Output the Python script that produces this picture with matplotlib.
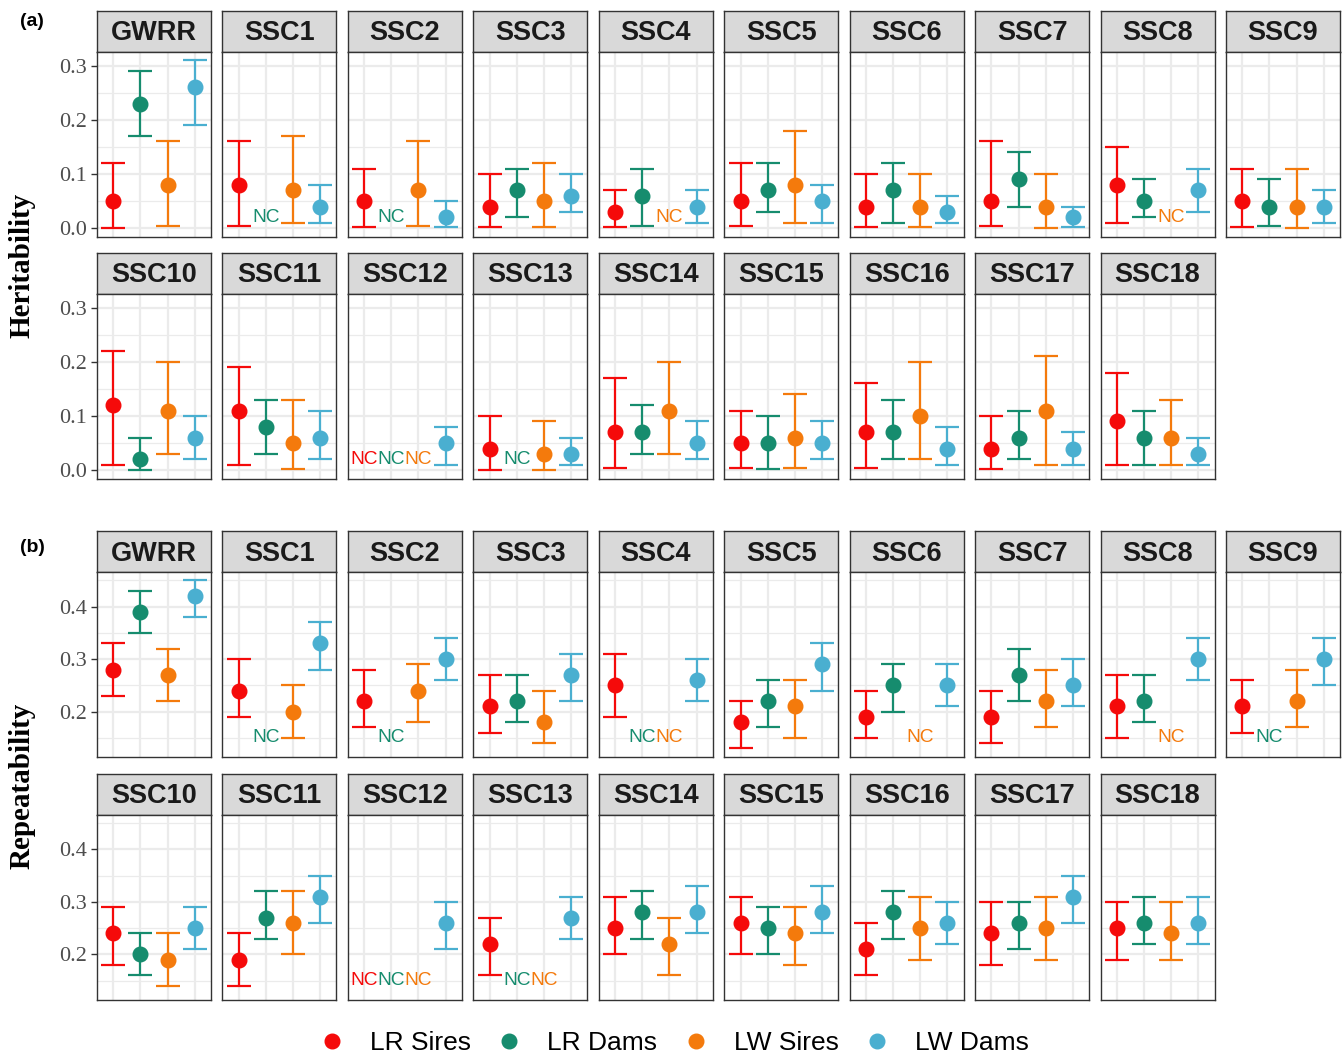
import matplotlib
matplotlib.use("Agg")
import matplotlib.pyplot as plt
from matplotlib.lines import Line2D

facets = ['GWRR'] + ['SSC%d' % i for i in range(1, 19)]
groups = ['LR Sires', 'LR Dams', 'LW Sires', 'LW Dams']
colors = ['#F50A0A', '#168C6E', '#F47A0C', '#4AAFD0']
N = None

# (a) Heritability: estimate, lower, upper per facet, order = groups
h2_est = [
    [0.05, 0.23, 0.08, 0.26], [0.08, N, 0.07, 0.04], [0.05, N, 0.07, 0.02],
    [0.04, 0.07, 0.05, 0.06], [0.03, 0.06, N, 0.04], [0.05, 0.07, 0.08, 0.05],
    [0.04, 0.07, 0.04, 0.03], [0.05, 0.09, 0.04, 0.02], [0.08, 0.05, N, 0.07],
    [0.05, 0.04, 0.04, 0.04], [0.12, 0.02, 0.11, 0.06], [0.11, 0.08, 0.05, 0.06],
    [N, N, N, 0.05], [0.04, N, 0.03, 0.03], [0.07, 0.07, 0.11, 0.05],
    [0.05, 0.05, 0.06, 0.05], [0.07, 0.07, 0.10, 0.04], [0.04, 0.06, 0.11, 0.04],
    [0.09, 0.06, 0.06, 0.03]]
h2_lo = [
    [0.00, 0.17, 0.004, 0.19], [0.004, N, 0.01, 0.01], [0.002, N, 0.004, 0.002],
    [0.002, 0.02, 0.002, 0.03], [0.002, 0.004, N, 0.01], [0.004, 0.03, 0.01, 0.01],
    [0.002, 0.01, 0.002, 0.01], [0.004, 0.04, 0.001, 0.002], [0.01, 0.02, N, 0.03],
    [0.002, 0.004, 0.001, 0.01], [0.01, 0.00, 0.03, 0.02], [0.01, 0.03, 0.003, 0.02],
    [N, N, N, 0.01], [0.001, N, 0.001, 0.01], [0.004, 0.03, 0.03, 0.02],
    [0.004, 0.002, 0.004, 0.02], [0.004, 0.02, 0.02, 0.01], [0.002, 0.02, 0.01, 0.01],
    [0.01, 0.01, 0.01, 0.01]]
h2_hi = [
    [0.12, 0.29, 0.16, 0.31], [0.16, N, 0.17, 0.08], [0.11, N, 0.16, 0.05],
    [0.10, 0.11, 0.12, 0.10], [0.07, 0.11, N, 0.07], [0.12, 0.12, 0.18, 0.08],
    [0.10, 0.12, 0.10, 0.06], [0.16, 0.14, 0.10, 0.04], [0.15, 0.09, N, 0.11],
    [0.11, 0.09, 0.11, 0.07], [0.22, 0.06, 0.20, 0.10], [0.19, 0.13, 0.13, 0.11],
    [N, N, N, 0.08], [0.10, N, 0.09, 0.06], [0.17, 0.12, 0.20, 0.09],
    [0.11, 0.10, 0.14, 0.09], [0.16, 0.13, 0.20, 0.08], [0.10, 0.11, 0.21, 0.07],
    [0.18, 0.11, 0.13, 0.06]]

# (b) Repeatability
rep_est = [
    [0.28, 0.39, 0.27, 0.42], [0.24, N, 0.20, 0.33], [0.22, N, 0.24, 0.30],
    [0.21, 0.22, 0.18, 0.27], [0.25, N, N, 0.26], [0.18, 0.22, 0.21, 0.29],
    [0.19, 0.25, N, 0.25], [0.19, 0.27, 0.22, 0.25], [0.21, 0.22, N, 0.30],
    [0.21, N, 0.22, 0.30], [0.24, 0.20, 0.19, 0.25], [0.19, 0.27, 0.26, 0.31],
    [N, N, N, 0.26], [0.22, N, N, 0.27], [0.25, 0.28, 0.22, 0.28],
    [0.26, 0.25, 0.24, 0.28], [0.21, 0.28, 0.25, 0.26], [0.24, 0.26, 0.25, 0.31],
    [0.25, 0.26, 0.24, 0.26]]
rep_lo = [
    [0.23, 0.35, 0.22, 0.38], [0.19, N, 0.15, 0.28], [0.17, N, 0.18, 0.26],
    [0.16, 0.18, 0.14, 0.22], [0.19, N, N, 0.22], [0.13, 0.17, 0.15, 0.24],
    [0.15, 0.20, N, 0.21], [0.14, 0.22, 0.17, 0.21], [0.15, 0.18, N, 0.26],
    [0.16, N, 0.17, 0.25], [0.18, 0.16, 0.14, 0.21], [0.14, 0.23, 0.20, 0.26],
    [N, N, N, 0.21], [0.16, N, N, 0.23], [0.20, 0.23, 0.16, 0.24],
    [0.20, 0.20, 0.18, 0.24], [0.16, 0.23, 0.19, 0.22], [0.18, 0.21, 0.19, 0.26],
    [0.19, 0.22, 0.19, 0.22]]
rep_hi = [
    [0.33, 0.43, 0.32, 0.45], [0.30, N, 0.25, 0.37], [0.28, N, 0.29, 0.34],
    [0.27, 0.27, 0.24, 0.31], [0.31, N, N, 0.30], [0.22, 0.26, 0.26, 0.33],
    [0.24, 0.29, N, 0.29], [0.24, 0.32, 0.28, 0.30], [0.27, 0.27, N, 0.34],
    [0.26, N, 0.28, 0.34], [0.29, 0.24, 0.24, 0.29], [0.24, 0.32, 0.32, 0.35],
    [N, N, N, 0.30], [0.27, N, N, 0.31], [0.31, 0.32, 0.27, 0.33],
    [0.31, 0.29, 0.29, 0.33], [0.26, 0.32, 0.31, 0.30], [0.30, 0.30, 0.31, 0.35],
    [0.30, 0.31, 0.30, 0.31]]

W, H = 1343, 1055
fig = plt.figure(figsize=(W / 100, H / 100), dpi=100)

def px_axes(x, y, w, h):
    return fig.add_axes([x / W, 1 - (y + h) / H, w / W, h / H])

col_left0, col_step, col_w = 97.0, 125.45, 114.0
SERIF = 'Liberation Serif'
SANS = 'Liberation Sans'
GRID = '#EBEBEB'
BORDER = '#333333'

def draw_block(est, lo, hi, ylim, majors, minors, nc_y, row_tops, ylabel, tag, tag_y):
    strip_h, panel_h = 41.3, 184.8
    for k, name in enumerate(facets):
        r, c = divmod(k, 10)
        x0 = col_left0 + c * col_step
        y0 = row_tops[r]
        sax = px_axes(x0, y0, col_w, strip_h)
        sax.set_facecolor('#D9D9D9')
        sax.set_xticks([]); sax.set_yticks([])
        for s in sax.spines.values():
            s.set_color(BORDER); s.set_linewidth(1.0)
        sax.text(0.5, 0.45, name, ha='center', va='center', fontsize=19.5,
                 fontweight='bold', family=SANS, color='#1A1A1A',
                 transform=sax.transAxes)
        ax = px_axes(x0, y0 + strip_h, col_w, panel_h)
        ax.set_xlim(0.4, 4.6)
        ax.set_ylim(*ylim)
        for m in minors:
            ax.axhline(m, color=GRID, lw=0.9, zorder=0)
        for m in majors:
            ax.axhline(m, color=GRID, lw=1.6, zorder=0)
        for xv in range(1, 5):
            ax.axvline(xv, color=GRID, lw=1.6, zorder=0)
        for s in ax.spines.values():
            s.set_color(BORDER); s.set_linewidth(1.0)
        ax.set_xticks([])
        if c == 0:
            ax.set_yticks(majors)
            ax.set_yticklabels(['%.1f' % v for v in majors], family=SERIF,
                               fontsize=16, color='#4D4D4D')
            ax.tick_params(axis='y', length=4, width=1, color=BORDER, pad=3)
        else:
            ax.set_yticks([])
        for g in range(4):
            e = est[k][g]
            if e is None:
                ax.text(g + 1, nc_y, 'NC', ha='center', va='center',
                        fontsize=13.8, family=SANS, color=colors[g], zorder=4)
            else:
                ax.errorbar([g + 1], [e], yerr=[[e - lo[k][g]], [hi[k][g] - e]],
                            fmt='none', ecolor=colors[g], elinewidth=1.6,
                            capsize=8.8, capthick=1.6, zorder=3)
                ax.plot([g + 1], [e], 'o', color=colors[g], ms=10.5, zorder=4)
    top = row_tops[0] + strip_h
    bottom = row_tops[1] + strip_h + panel_h
    fig.text(22 / W, 1 - ((top + bottom) / 2) / H, ylabel, rotation=90,
             ha='center', va='center', family=SERIF, fontweight='bold',
             fontsize=21, color='black')
    fig.text(20 / W, 1 - tag_y / H, tag, ha='left', va='center', family=SANS,
             fontweight='bold', fontsize=14, color='black')

draw_block(h2_est, h2_lo, h2_hi, (-0.0155, 0.3255), [0.0, 0.1, 0.2, 0.3],
           [0.05, 0.15, 0.25], 0.02, [10.5, 252.5], 'Heritability', '(a)', 22)
draw_block(rep_est, rep_lo, rep_hi, (0.114, 0.466), [0.2, 0.3, 0.4],
           [0.15, 0.25, 0.35, 0.45], 0.15, [530.8, 773.5], 'Repeatability', '(b)', 548)

handles = [Line2D([], [], marker='o', ls='none', color=c, ms=10.5) for c in colors]
fig.legend(handles, groups, loc='center', bbox_to_anchor=(0.5008, 1 - 1043 / H),
           ncol=4, frameon=False, prop={'family': SANS, 'size': 19},
           handletextpad=0.85, columnspacing=0.85, handlelength=1.2)

fig.savefig('out.png', dpi=100, facecolor='white')
